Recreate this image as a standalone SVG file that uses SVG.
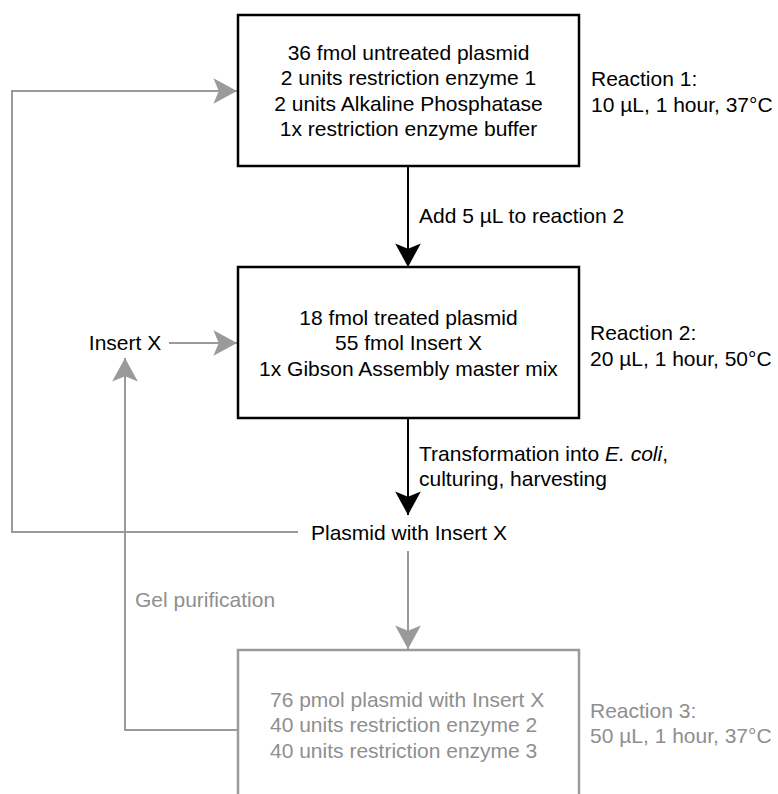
<svg xmlns="http://www.w3.org/2000/svg" width="778" height="794" viewBox="0 0 778 794">
  <style>
    text { font-family: "Liberation Sans", Arial, sans-serif; font-size: 21px; }
    .blk { fill: #000000; }
    .gry { fill: #8f8f8f; }
    .mid { text-anchor: middle; }
    .box { fill: #ffffff; stroke: #000000; stroke-width: 2.5; }
    .gbox { fill: #ffffff; stroke: #9a9a9a; stroke-width: 2.5; }
    .ln { fill: none; stroke: #000000; stroke-width: 2; }
    .gln { fill: none; stroke: #9a9a9a; stroke-width: 2; }
  </style>
  <defs>
    <marker id="ah" markerUnits="userSpaceOnUse" markerWidth="30" markerHeight="30" refX="0" refY="0" viewBox="-24 -14 26 28" orient="auto" overflow="visible">
      <path d="M0,0 L-22,-12 L-17,0 L-22,12 Z" fill="#000000"/>
    </marker>
    <marker id="gah" markerUnits="userSpaceOnUse" markerWidth="30" markerHeight="30" refX="0" refY="0" viewBox="-24 -14 26 28" orient="auto" overflow="visible">
      <path d="M0,0 L-22,-12 L-17,0 L-22,12 Z" fill="#9a9a9a"/>
    </marker>
  </defs>

  <g id="connectors">
    <path class="ln" d="M408,166 V267" marker-end="url(#ah)"/>
    <path class="ln" d="M408,418 V515" marker-end="url(#ah)"/>
    <path class="gln" d="M298,532 H12 V91 H237" marker-end="url(#gah)"/>
    <path class="gln" d="M169,343 H237" marker-end="url(#gah)"/>
    <path class="gln" d="M238,730 H125 V358" marker-end="url(#gah)"/>
    <path class="gln" d="M408,551 V649" marker-end="url(#gah)"/>
    <text class="blk" x="419" y="222.5">Add 5 µL to reaction 2</text>
    <text class="blk" x="419" y="460.5">Transformation into <tspan font-style="italic">E. coli</tspan>,</text>
    <text class="blk" x="419" y="485.5">culturing, harvesting</text>
    <text class="gry" x="135" y="606.5">Gel purification</text>
  </g>

  <g id="reaction1">
    <rect class="box" x="238" y="15" width="341" height="151"/>
    <text class="blk mid" x="408.5" y="59.5">36 fmol untreated plasmid</text>
    <text class="blk mid" x="408.5" y="85">2 units restriction enzyme 1</text>
    <text class="blk mid" x="408.5" y="110.5">2 units Alkaline Phosphatase</text>
    <text class="blk mid" x="408.5" y="136">1x restriction enzyme buffer</text>
    <text class="blk" x="591" y="85.5">Reaction 1:</text>
    <text class="blk" x="591" y="112">10 µL, 1 hour, 37°C</text>
  </g>

  <g id="reaction2">
    <rect class="box" x="238" y="267" width="341" height="151"/>
    <text class="blk mid" x="408.5" y="324.5">18 fmol treated plasmid</text>
    <text class="blk mid" x="408.5" y="350">55 fmol Insert X</text>
    <text class="blk mid" x="408.5" y="375.5">1x Gibson Assembly master mix</text>
    <text class="blk" x="590" y="339.5">Reaction 2:</text>
    <text class="blk" x="590" y="365.5">20 µL, 1 hour, 50°C</text>
  </g>

  <g id="insertX">
    <text class="blk mid" x="125" y="350">Insert X</text>
  </g>

  <g id="plasmid">
    <text class="blk mid" x="409" y="539.5">Plasmid with Insert X</text>
  </g>

  <g id="reaction3">
    <rect class="gbox" x="238" y="650" width="341" height="151"/>
    <text class="gry" x="270" y="706.5">76 pmol plasmid with Insert X</text>
    <text class="gry" x="270" y="732">40 units restriction enzyme 2</text>
    <text class="gry" x="270" y="757.5">40 units restriction enzyme 3</text>
    <text class="gry" x="590" y="717.5">Reaction 3:</text>
    <text class="gry" x="590" y="742.5">50 µL, 1 hour, 37°C</text>
  </g>
</svg>
